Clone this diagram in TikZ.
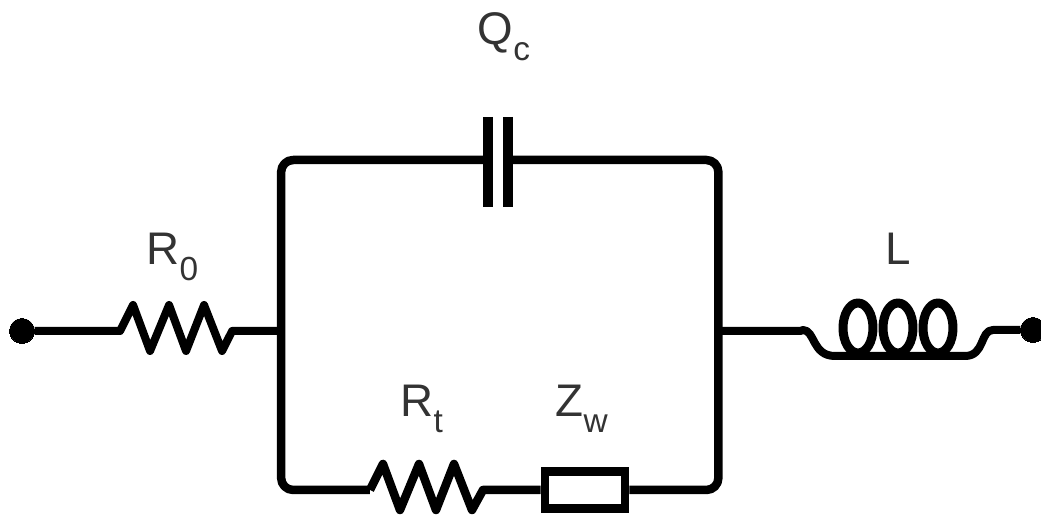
\documentclass[tikz,border=0pt]{standalone}
\usepackage{fontspec}
\setmainfont{Liberation Sans}
\usetikzlibrary{shapes,fit,arrows}
\newcommand*{\Sb}[1]{\raisebox{-4.3pt}{\fontsize{9.5}{10}\selectfont #1}}
\tikzstyle{input} = [coordinate]
\tikzstyle{output} = [coordinate]
\tikzstyle{terminal} = [draw, circle, fill=black, line width=0pt, minimum size=0.25cm, inner sep=0pt]
\tikzstyle{block} = [draw, rectangle, line width=0.085cm, fill=white, minimum height=0.37cm, minimum width=0.8cm, inner sep=0pt]
\tikzstyle{wire} = [line width=0.08cm, line join=round]
\tikzstyle{lbl} = [anchor=base west, inner sep=0pt, font=\fontsize{13}{13}\selectfont, text=black!80]
\tikzstyle{resistor} = [to path={-- ++(13,-26) -- ++(17,46) -- ++(19,-46) -- ++(17,46) -- ++(18,-46) -- ++(18,46) -- (\tikztotarget)}]

\begin{document}
\begin{tikzpicture}[x=0.01cm, y=-0.01cm]
    \useasboundingbox (0,0) rectangle (1041,519);
    \node [terminal] (a) at (22,331) {};
    \node [input, right of=a, node distance=0.98cm] (r0l) {};
    \node [input, right of=r0l, node distance=1.12cm] (r0r) {};
    \node [input, right of=r0r, node distance=0.49cm] (jl) {};
    \node [input, right of=jl, node distance=4.37cm] (jr) {};
    \node [input, right of=jr, node distance=0.82cm] (ll) {};
    \node [terminal] (b) at (1033,330) {};
    \node [input, left of=b, node distance=0.38cm] (lr) {};
    \node [input] (capl) at (488,160) {};
    \node [input] (capr) at (508,160) {};
    \node [input] (r1l) at (370,490) {};
    \node [input] (r1r) at (483,490) {};
    \node [block] (zw) at (585,490) {};
    % plates
    \node [input] (capla) at (488,117) {};
    \node [input] (caplb) at (488,207) {};
    \node [input] (capra) at (508,117) {};
    \node [input] (caprb) at (508,207) {};

    \draw [wire] (a) -- (r0l) to [resistor] (r0r) -- (jl);
    \draw [wire, line width=0.085cm, rounded corners=0.12cm] (capl) -| (jl) |- (r1l);
    \draw [wire, line width=0.085cm, rounded corners=0.12cm] (capr) -| (jr) |- (zw.east);
    \draw [wire, line width=0.085cm] (r1l) to [resistor] (r1r) -- (zw.west);
    \draw [line width=0.09cm] (capla) -- (caplb);
    \draw [line width=0.09cm] (capra) -- (caprb);
    \draw [wire] (jr) -- (ll) -- (803,330) .. controls (815,330) and (812,356) .. (835,356) -- (965,356) .. controls (985,356) and (980,330) .. (993,330) -- (lr) -- (b);
    \foreach \cx in {858,898,938}
        \draw [wire, line width=0.09cm] (\cx,328) ellipse [x radius=15, y radius=25];

    \node [lbl] (q) at (477,45) {Q\Sb{c}};
    \node [lbl] (r0) at (146,265) {R\Sb{0}};
    \node [lbl] (lab) at (885,265) {L};
    \node [lbl] (rt) at (400,417) {R\Sb{t}};
    \node [lbl] (z) at (555,417) {Z\Sb{w}};
\end{tikzpicture}
\end{document}
